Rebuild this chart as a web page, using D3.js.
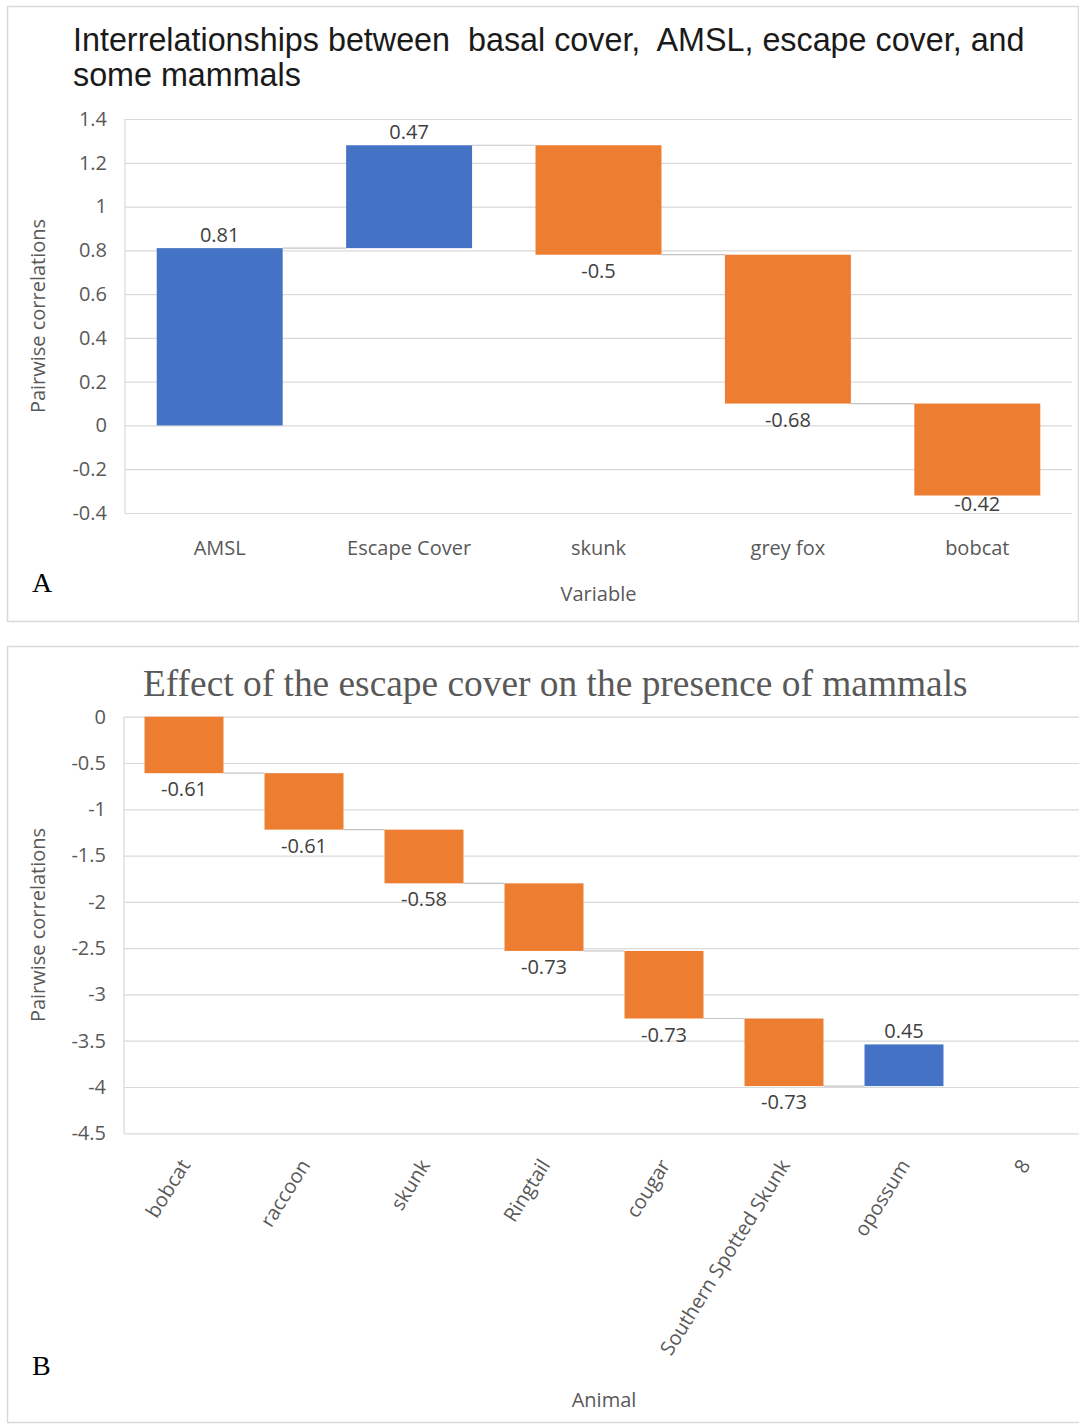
<!DOCTYPE html>
<html><head><meta charset="utf-8">
<script src="https://cdn.jsdelivr.net/npm/d3@7"></script>
<style>
html,body{margin:0;padding:0;background:#fff;}
svg{display:block;}
</style></head><body>
<svg id="fig" width="1079" height="1425"></svg>
<script>
// Panel A: basal cover vs. AMSL, escape cover and some mammals
const variables = ["AMSL", "Escape Cover", "skunk", "grey fox", "bobcat"];
const variableCorr = [0.81, 0.47, -0.5, -0.68, -0.42];
const variableTicks = [-0.4, -0.2, 0, 0.2, 0.4, 0.6, 0.8, 1, 1.2, 1.4];

// Panel B: escape cover vs. presence of mammals
const animals = ["bobcat", "raccoon", "skunk", "Ringtail", "cougar", "Southern Spotted Skunk", "opossum", "8"];
const animalCorr = [-0.61, -0.61, -0.58, -0.73, -0.73, -0.73, 0.45, null];
const animalTicks = [0, -0.5, -1, -1.5, -2, -2.5, -3, -3.5, -4, -4.5];

const BLUE = "#4472C4", ORANGE = "#ED7D31", GRID = "#d9d9d9", CONNECT = "#c4c4c4";
const AXIS_TEXT = "#595959", LABEL_TEXT = "#404040";
const SANS = "'Open Sans', sans-serif";
const SERIF = "'Liberation Serif', 'Times New Roman', serif";

const fmt = v => String(+v.toFixed(2));

// running totals: each step floats from the previous total
function waterfall(values) {
  let run = 0;
  return values.map(v => {
    if (v == null) return null;
    const start = run;
    run = +(run + v).toFixed(4);
    return { start, end: run, value: v };
  });
}

const svg = d3.select("#fig");

function drawWaterfall(o) {
  const g = svg.append("g");
  // panel frame
  g.append("rect").attr("x", o.frame[0]).attr("y", o.frame[1])
    .attr("width", o.frame[2]).attr("height", o.frame[3])
    .attr("fill", "#fff").attr("stroke", GRID).attr("stroke-width", 1.5);

  const x = d3.scaleBand().domain(o.categories).range([o.left, o.right])
    .paddingInner(o.pad).paddingOuter(o.pad / 2);
  const y = d3.scaleLinear().domain(o.domain).range([o.bottom, o.top]);

  // gridlines + tick labels
  const ax = g.append("g").attr("transform", `translate(${o.left},0)`)
    .call(d3.axisLeft(y).tickValues(o.ticks).tickFormat(fmt)
      .tickSize(-(o.right - o.left)).tickPadding(18));
  ax.select(".domain").remove();
  ax.selectAll(".tick line").attr("stroke", GRID).attr("stroke-width", 1.2);
  ax.selectAll(".tick text").attr("fill", AXIS_TEXT)
    .style("font-family", SANS).style("font-size", "20px");

  // plot-area left edge
  g.append("line").attr("x1", o.left).attr("x2", o.left).attr("y1", o.top).attr("y2", o.bottom)
    .attr("stroke", GRID).attr("stroke-width", 1.2);

  const steps = waterfall(o.values);
  const bw = x.bandwidth();

  // connectors between consecutive steps
  steps.forEach((s, i) => {
    const nxt = steps[i + 1];
    if (!s || !nxt) return;
    g.append("line")
      .attr("x1", x(o.categories[i]) + bw).attr("x2", x(o.categories[i + 1]))
      .attr("y1", y(s.end)).attr("y2", y(s.end))
      .attr("stroke", CONNECT).attr("stroke-width", 1.2);
  });

  const data = steps.map((s, i) => s && Object.assign({ cat: o.categories[i] }, s)).filter(d => d);

  g.selectAll("rect.bar").data(data).enter().append("rect").attr("class", "bar")
    .attr("x", d => x(d.cat)).attr("width", bw)
    .attr("y", d => y(Math.max(d.start, d.end)))
    .attr("height", d => Math.abs(y(d.start) - y(d.end)))
    .attr("fill", d => d.value >= 0 ? BLUE : ORANGE);

  g.selectAll("text.val").data(data).enter().append("text").attr("class", "val")
    .attr("x", d => x(d.cat) + bw / 2)
    .attr("y", d => d.value >= 0 ? y(d.end) - 6 : Math.min(y(d.end) + 23, o.bottom - 2))
    .attr("text-anchor", "middle").attr("fill", LABEL_TEXT)
    .style("font-family", SANS).style("font-size", "20px")
    .text(d => fmt(d.value));

  // category labels
  const cl = g.selectAll("text.cat").data(o.categories).enter().append("text").attr("class", "cat")
    .attr("fill", AXIS_TEXT).style("font-family", SANS).style("font-size", "20px")
    .text(d => d);
  if (o.rotate) {
    cl.attr("text-anchor", "end")
      .attr("transform", d => `translate(${x(d) + bw / 2 + 1},${o.bottom + 28}) rotate(-58)`)
      .attr("dy", "0.35em");
  } else {
    cl.attr("text-anchor", "middle")
      .attr("x", d => x(d) + bw / 2).attr("y", o.bottom + 42);
  }

  // axis titles
  g.append("text").attr("x", (o.left + o.right) / 2).attr("y", o.xTitleY)
    .attr("text-anchor", "middle").attr("fill", AXIS_TEXT)
    .style("font-family", SANS).style("font-size", "20px").text(o.xTitle);
  g.append("text")
    .attr("transform", `translate(38,${(o.top + o.bottom) / 2}) rotate(-90)`)
    .attr("dy", "0.35em").attr("text-anchor", "middle").attr("fill", AXIS_TEXT)
    .style("font-family", SANS).style("font-size", "20px").text("Pairwise correlations");

  // panel letter
  g.append("text").attr("x", 32).attr("y", o.letterY).attr("fill", "#000")
    .style("font-family", SERIF).style("font-size", "28px").text(o.letter);
  return g;
}

const gA = drawWaterfall({
  frame: [7.5, 6.5, 1071, 615],
  categories: variables, values: variableCorr, ticks: variableTicks,
  domain: [-0.4, 1.4], left: 125, right: 1072, top: 119, bottom: 513, pad: 0.335,
  rotate: false, xTitle: "Variable", xTitleY: 601, letter: "A", letterY: 592
});
gA.append("text").attr("x", 73).attr("y", 51).attr("fill", "#1a1a1a")
  .style("font-family", "'Liberation Sans', Arial, sans-serif").style("font-size", "32.3px")
  .style("white-space", "pre")
  .text("Interrelationships between  basal cover,  AMSL, escape cover, and");
gA.append("text").attr("x", 73).attr("y", 86).attr("fill", "#1a1a1a")
  .style("font-family", "'Liberation Sans', Arial, sans-serif").style("font-size", "32.3px")
  .text("some mammals");

const gB = drawWaterfall({
  frame: [7.5, 646.5, 1100, 776],
  categories: animals, values: animalCorr, ticks: animalTicks,
  domain: [-4.5, 0], left: 124, right: 1084, top: 716.7, bottom: 1133.3, pad: 0.342,
  rotate: true, xTitle: "Animal", xTitleY: 1407, letter: "B", letterY: 1375
});
gB.append("text").attr("x", 143).attr("y", 696).attr("fill", AXIS_TEXT)
  .style("font-family", SERIF).style("font-size", "37.4px")
  .text("Effect of the escape cover on the presence of mammals");
</script>
</body></html>
